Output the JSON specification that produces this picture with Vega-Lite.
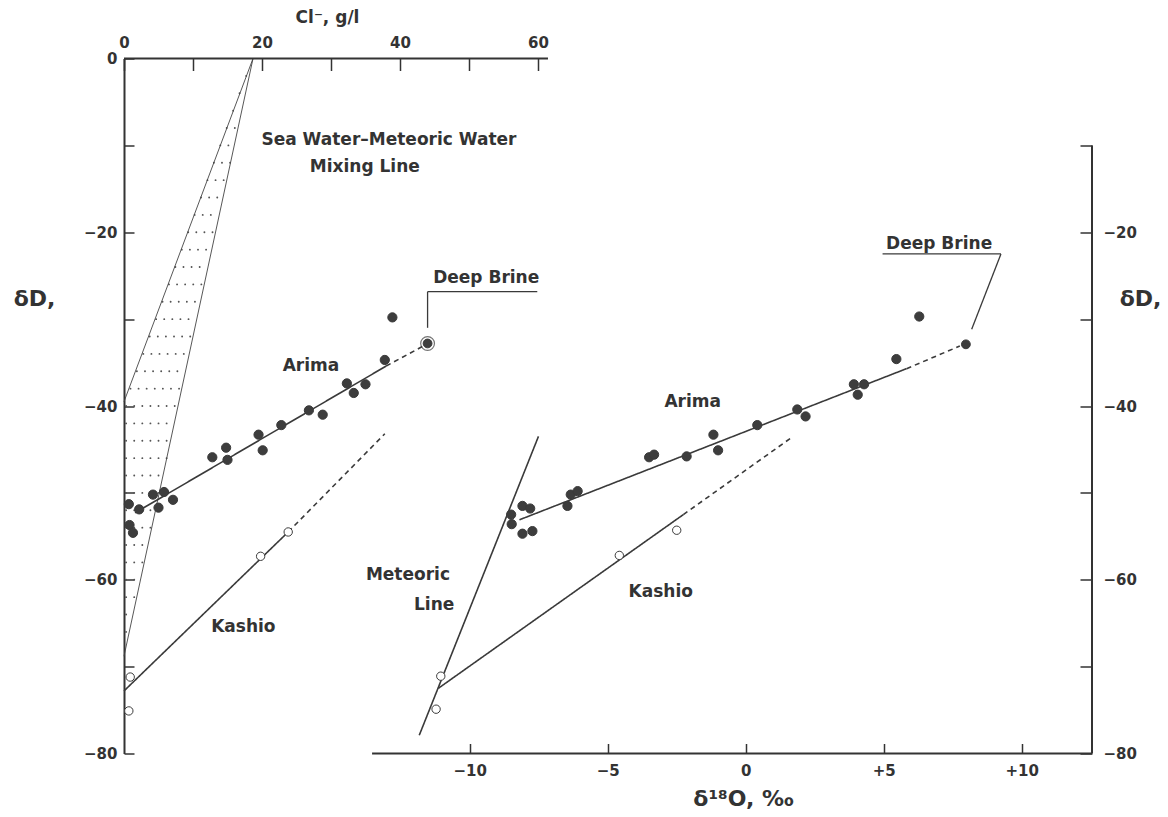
{
  "$schema": "https://vega.github.io/schema/vega-lite/v6.json",
  "width": 968,
  "height": 695,
  "autosize": {"type": "none"},
  "padding": {"left": 124, "top": 58.5, "right": 76, "bottom": 63.5},
  "background": "white",
  "config": {
    "view": {"stroke": null},
    "axis": {
      "grid": false,
      "labelFlush": false,
      "labelOverlap": false,
      "labelFont": "DejaVu Sans",
      "labelFontWeight": "bold",
      "labelFontSize": 15,
      "labelColor": "#333333",
      "tickColor": "#333333",
      "tickWidth": 1.5,
      "domainColor": "#333333",
      "domainWidth": 2,
      "titleFont": "DejaVu Sans",
      "titleFontWeight": "bold",
      "titleColor": "#333333"
    }
  },
  "datasets": {
    "cl_pts": [
      {"cl": 38.9, "dD": -29.8, "water": "Arima"},
      {"cl": 37.8, "dD": -34.7, "water": "Arima"},
      {"cl": 32.3, "dD": -37.4, "water": "Arima"},
      {"cl": 35.0, "dD": -37.5, "water": "Arima"},
      {"cl": 33.3, "dD": -38.5, "water": "Arima"},
      {"cl": 26.8, "dD": -40.5, "water": "Arima"},
      {"cl": 28.8, "dD": -41.0, "water": "Arima"},
      {"cl": 22.8, "dD": -42.2, "water": "Arima"},
      {"cl": 19.5, "dD": -43.3, "water": "Arima"},
      {"cl": 20.1, "dD": -45.1, "water": "Arima"},
      {"cl": 14.8, "dD": -44.8, "water": "Arima"},
      {"cl": 12.8, "dD": -45.9, "water": "Arima"},
      {"cl": 15.0, "dD": -46.2, "water": "Arima"},
      {"cl": 4.2, "dD": -50.2, "water": "Arima"},
      {"cl": 5.8, "dD": -49.9, "water": "Arima"},
      {"cl": 7.1, "dD": -50.8, "water": "Arima"},
      {"cl": 5.0, "dD": -51.7, "water": "Arima"},
      {"cl": 2.2, "dD": -51.9, "water": "Arima"},
      {"cl": 0.7, "dD": -51.3, "water": "Arima"},
      {"cl": 0.8, "dD": -53.7, "water": "Arima"},
      {"cl": 1.3, "dD": -54.6, "water": "Arima"},
      {"cl": 44.0, "dD": -32.8, "water": "Deep Brine"},
      {"cl": 23.8, "dD": -54.5, "water": "Kashio"},
      {"cl": 19.8, "dD": -57.3, "water": "Kashio"},
      {"cl": 0.9, "dD": -71.2, "water": "Kashio"},
      {"cl": 0.7, "dD": -75.1, "water": "Kashio"}
    ],
    "o_pts": [
      {"o18": 3.92, "dD": -37.5, "water": "Arima"},
      {"o18": 4.29, "dD": -37.5, "water": "Arima"},
      {"o18": 4.06, "dD": -38.7, "water": "Arima"},
      {"o18": 1.87, "dD": -40.4, "water": "Arima"},
      {"o18": 2.17, "dD": -41.2, "water": "Arima"},
      {"o18": 0.42, "dD": -42.2, "water": "Arima"},
      {"o18": -1.17, "dD": -43.3, "water": "Arima"},
      {"o18": -1.0, "dD": -45.1, "water": "Arima"},
      {"o18": -2.14, "dD": -45.8, "water": "Arima"},
      {"o18": -3.5, "dD": -45.9, "water": "Arima"},
      {"o18": -3.32, "dD": -45.6, "water": "Arima"},
      {"o18": -6.34, "dD": -50.2, "water": "Arima"},
      {"o18": -6.09, "dD": -49.8, "water": "Arima"},
      {"o18": -6.46, "dD": -51.5, "water": "Arima"},
      {"o18": -8.09, "dD": -51.5, "water": "Arima"},
      {"o18": -7.81, "dD": -51.8, "water": "Arima"},
      {"o18": -8.5, "dD": -52.5, "water": "Arima"},
      {"o18": -8.48, "dD": -53.6, "water": "Arima"},
      {"o18": -8.09, "dD": -54.7, "water": "Arima"},
      {"o18": -7.73, "dD": -54.4, "water": "Arima"},
      {"o18": 6.29, "dD": -29.7, "water": "Arima"},
      {"o18": 5.46, "dD": -34.6, "water": "Arima"},
      {"o18": 7.98, "dD": -32.9, "water": "Deep Brine"},
      {"o18": -11.05, "dD": -71.1, "water": "Kashio"},
      {"o18": -11.22, "dD": -74.9, "water": "Kashio"},
      {"o18": -4.58, "dD": -57.2, "water": "Kashio"},
      {"o18": -2.5, "dD": -54.3, "water": "Kashio"}
    ],
    "cl_lines": [
      {"cl": 1.6, "dD": -52.3, "cl2": 38.0, "dD2": -35.4, "water": "Arima", "part": "fit"},
      {"cl": 38.0, "dD": -35.4, "cl2": 43.6, "dD2": -33.0, "water": "Arima", "part": "extrapolated"},
      {"cl": 0, "dD": -72.8, "cl2": 23.8, "dD2": -54.5, "water": "Kashio", "part": "fit"},
      {"cl": 23.8, "dD": -54.5, "cl2": 37.8, "dD2": -43.2, "water": "Kashio", "part": "extrapolated"}
    ],
    "o_lines": [
      {"o18": -8.2, "dD": -53.1, "o182": 5.83, "dD2": -35.7, "water": "Arima", "part": "fit"},
      {"o18": 5.83, "dD": -35.7, "o182": 7.76, "dD2": -33.1, "water": "Arima", "part": "extrapolated"},
      {"o18": -11.14, "dD": -72.5, "o182": -2.26, "dD2": -52.5, "water": "Kashio", "part": "fit"},
      {"o18": -2.26, "dD": -52.5, "o182": 1.72, "dD2": -43.5, "water": "Kashio", "part": "extrapolated"},
      {"o18": -11.83, "dD": -77.9, "o182": -7.51, "dD2": -43.5, "water": "Meteoric Line", "part": "fit"}
    ],
    "mixing": [
      {"cl": 18.7, "dD": 0, "cl2": 0, "dD2": -39.5, "end": "meteoric upper"},
      {"cl": 18.7, "dD": 0, "cl2": 0, "dD2": -68.8, "end": "meteoric lower"}
    ],
    "stipple": [
      {"dD": -2, "cl": 17.7, "cl2": 18.06},
      {"dD": -4, "cl": 16.74, "cl2": 17.52},
      {"dD": -6, "cl": 15.81, "cl2": 16.98},
      {"dD": -8, "cl": 14.88, "cl2": 16.44},
      {"dD": -10, "cl": 13.95, "cl2": 15.9},
      {"dD": -12, "cl": 13.02, "cl2": 15.37},
      {"dD": -14, "cl": 12.09, "cl2": 14.83},
      {"dD": -16, "cl": 11.16, "cl2": 14.29},
      {"dD": -18, "cl": 10.23, "cl2": 13.75},
      {"dD": -20, "cl": 9.3, "cl2": 13.21},
      {"dD": -22, "cl": 8.37, "cl2": 12.67},
      {"dD": -24, "cl": 7.44, "cl2": 12.13},
      {"dD": -26, "cl": 6.51, "cl2": 11.59},
      {"dD": -28, "cl": 5.58, "cl2": 11.05},
      {"dD": -30, "cl": 4.65, "cl2": 10.51},
      {"dD": -32, "cl": 3.72, "cl2": 9.97},
      {"dD": -34, "cl": 2.79, "cl2": 9.43},
      {"dD": -36, "cl": 1.86, "cl2": 8.9},
      {"dD": -38, "cl": 0.93, "cl2": 8.36},
      {"dD": -40, "cl": 0.3, "cl2": 7.82},
      {"dD": -42, "cl": 0.3, "cl2": 7.28},
      {"dD": -44, "cl": 0.3, "cl2": 6.74},
      {"dD": -46, "cl": 0.3, "cl2": 6.2},
      {"dD": -48, "cl": 0.3, "cl2": 5.66},
      {"dD": -50, "cl": 0.3, "cl2": 5.12},
      {"dD": -52, "cl": 0.3, "cl2": 4.58},
      {"dD": -54, "cl": 0.3, "cl2": 4.04},
      {"dD": -56, "cl": 0.3, "cl2": 3.5},
      {"dD": -58, "cl": 0.3, "cl2": 2.96},
      {"dD": -60, "cl": 0.3, "cl2": 2.43},
      {"dD": -62, "cl": 0.3, "cl2": 1.89},
      {"dD": -64, "cl": 0.3, "cl2": 1.35},
      {"dD": -66, "cl": 0.3, "cl2": 0.81}
    ],
    "cl_leader": [
      {"cl": 44.0, "dD": -31.0, "cl2": 44.0, "dD2": -26.84},
      {"cl": 44.0, "dD": -26.84, "cl2": 59.9, "dD2": -26.84}
    ],
    "o_leader": [
      {"o18": 8.19, "dD": -31.17, "o182": 9.25, "dD2": -22.5},
      {"o18": 9.25, "dD": -22.5, "o182": 4.96, "dD2": -22.5}
    ],
    "cl_labels": [
      {"cl": 38.4, "dD": -9.4, "text": "Sea Water–Meteoric Water"},
      {"cl": 34.9, "dD": -12.45, "text": "Mixing  Line"},
      {"cl": 27.1, "dD": -35.4, "text": "Arima"},
      {"cl": 17.3, "dD": -65.4, "text": "Kashio"},
      {"cl": 52.5, "dD": -25.3, "text": "Deep Brine"}
    ],
    "o_labels": [
      {"o18": -12.24, "dD": -59.45, "text": "Meteoric"},
      {"o18": -11.29, "dD": -62.9, "text": "Line"},
      {"o18": -3.08, "dD": -61.4, "text": "Kashio"},
      {"o18": -1.92, "dD": -39.5, "text": "Arima"},
      {"o18": 7.01, "dD": -21.3, "text": "Deep Brine"}
    ]
  },
  "layer": [
    {
      "layer": [
        {
          "data": {"name": "stipple"},
          "mark": {"type": "rule", "stroke": "#555555", "strokeWidth": 1.8, "strokeCap": "round", "strokeDash": [0.1, 8]},
          "encoding": {
            "x": {
              "field": "cl", "type": "quantitative",
              "scale": {"domain": [0, 140.3], "nice": false, "zero": false},
              "axis": {
                "orient": "top", "domain": false,
                "values": [0, 10, 20, 30, 40, 50, 60],
                "labelExpr": "datum.value % 20 == 0 ? datum.label : ''",
                "tickSize": -12, "labelPadding": 20.5,
                "title": "Cl⁻, g/l", "titleX": 203, "titleY": -41.5,
                "titleAlign": "center", "titleBaseline": "middle", "titleFontSize": 17
              }
            },
            "x2": {"field": "cl2"},
            "y": {
              "field": "dD", "type": "quantitative",
              "scale": {"domain": [-80, 0], "nice": false, "zero": false},
              "axis": {
                "orient": "left",
                "values": [0, -10, -20, -30, -40, -50, -60, -70, -80],
                "labelExpr": "datum.value % 20 == 0 ? datum.label : ''",
                "tickSize": -10, "labelPadding": 17,
                "title": "δD,", "titleAngle": 0, "titleX": -90, "titleY": 240,
                "titleAlign": "center", "titleBaseline": "middle", "titleFontSize": 22
              }
            }
          }
        },
        {
          "data": {"name": "mixing"},
          "mark": {"type": "rule", "stroke": "#444444", "strokeWidth": 0.9},
          "encoding": {
            "x": {"field": "cl", "type": "quantitative", "scale": {"domain": [0, 140.3], "nice": false, "zero": false}},
            "x2": {"field": "cl2"},
            "y": {"field": "dD", "type": "quantitative", "scale": {"domain": [-80, 0], "nice": false, "zero": false}},
            "y2": {"field": "dD2"}
          }
        },
        {
          "data": {"name": "cl_lines"},
          "mark": {"type": "rule", "stroke": "#3a3a3a", "strokeWidth": 1.6},
          "encoding": {
            "x": {"field": "cl", "type": "quantitative", "scale": {"domain": [0, 140.3], "nice": false, "zero": false}},
            "x2": {"field": "cl2"},
            "y": {"field": "dD", "type": "quantitative", "scale": {"domain": [-80, 0], "nice": false, "zero": false}},
            "y2": {"field": "dD2"},
            "strokeDash": {"field": "part", "type": "nominal", "scale": {"domain": ["fit", "extrapolated"], "range": [[1, 0], [5, 4]]}, "legend": null}
          }
        },
        {
          "data": {"name": "cl_leader"},
          "mark": {"type": "rule", "stroke": "#3a3a3a", "strokeWidth": 1.3},
          "encoding": {
            "x": {"field": "cl", "type": "quantitative", "scale": {"domain": [0, 140.3], "nice": false, "zero": false}},
            "x2": {"field": "cl2"},
            "y": {"field": "dD", "type": "quantitative", "scale": {"domain": [-80, 0], "nice": false, "zero": false}},
            "y2": {"field": "dD2"}
          }
        },
        {
          "data": {"values": [{}]},
          "mark": {"type": "rule", "stroke": "#333333", "strokeWidth": 2},
          "encoding": {
            "x": {"datum": 0, "type": "quantitative", "scale": {"domain": [0, 140.3], "nice": false, "zero": false}},
            "x2": {"datum": 61.45},
            "y": {"datum": 0, "type": "quantitative", "scale": {"domain": [-80, 0], "nice": false, "zero": false}}
          }
        },
        {
          "data": {"name": "cl_pts"},
          "transform": [{"filter": "datum.water === 'Deep Brine'"}],
          "mark": {"type": "point", "shape": "circle", "filled": false, "stroke": "#3a3a3a", "strokeWidth": 1.2, "size": 190},
          "encoding": {
            "x": {"field": "cl", "type": "quantitative", "scale": {"domain": [0, 140.3], "nice": false, "zero": false}},
            "y": {"field": "dD", "type": "quantitative", "scale": {"domain": [-80, 0], "nice": false, "zero": false}}
          }
        },
        {
          "data": {"name": "cl_pts"},
          "mark": {"type": "point", "shape": "circle", "filled": true, "stroke": "#3a3a3a", "strokeWidth": 1, "opacity": 1},
          "encoding": {
            "x": {"field": "cl", "type": "quantitative", "scale": {"domain": [0, 140.3], "nice": false, "zero": false}},
            "y": {"field": "dD", "type": "quantitative", "scale": {"domain": [-80, 0], "nice": false, "zero": false}},
            "fill": {"field": "water", "type": "nominal", "scale": {"domain": ["Arima", "Deep Brine", "Kashio"], "range": ["#3d3d3d", "#3d3d3d", "#ffffff"]}, "legend": null},
            "size": {"field": "water", "type": "nominal", "scale": {"domain": ["Arima", "Deep Brine", "Kashio"], "range": [85, 70, 60]}, "legend": null}
          }
        },
        {
          "data": {"name": "cl_labels"},
          "mark": {"type": "text", "font": "DejaVu Sans", "fontWeight": "bold", "fontSize": 17, "fill": "#333333", "align": "center", "baseline": "middle"},
          "encoding": {
            "x": {"field": "cl", "type": "quantitative", "scale": {"domain": [0, 140.3], "nice": false, "zero": false}},
            "y": {"field": "dD", "type": "quantitative", "scale": {"domain": [-80, 0], "nice": false, "zero": false}},
            "text": {"field": "text"}
          }
        }
      ]
    },
    {
      "layer": [
        {
          "data": {"name": "o_lines"},
          "mark": {"type": "rule", "stroke": "#3a3a3a", "strokeWidth": 1.6},
          "encoding": {
            "x": {
              "field": "o18", "type": "quantitative",
              "scale": {"domain": [-22.53, 12.55], "nice": false, "zero": false},
              "axis": {
                "orient": "bottom", "domain": false,
                "values": [-10, -5, 0, 5, 10],
                "labelExpr": "datum.value > 0 ? '+' + datum.label : datum.label",
                "tickSize": -10, "labelPadding": 20,
                "title": "δ¹⁸O, ‰", "titleX": 619, "titleY": 45,
                "titleAlign": "center", "titleBaseline": "middle", "titleFontSize": 22
              }
            },
            "x2": {"field": "o182"},
            "y": {
              "field": "dD", "type": "quantitative",
              "scale": {"domain": [-80, 0], "nice": false, "zero": false},
              "axis": {
                "orient": "right", "domain": false,
                "values": [-10, -20, -30, -40, -50, -60, -70, -80],
                "labelExpr": "datum.value % 20 == 0 ? datum.label : ''",
                "tickSize": -12, "labelPadding": 23,
                "title": "δD,", "titleAngle": 0, "titleX": 48, "titleY": 240,
                "titleAlign": "center", "titleBaseline": "middle", "titleFontSize": 22
              }
            },
            "y2": {"field": "dD2"},
            "strokeDash": {"field": "part", "type": "nominal", "scale": {"domain": ["fit", "extrapolated"], "range": [[1, 0], [5, 4]]}, "legend": null}
          }
        },
        {
          "data": {"name": "o_leader"},
          "mark": {"type": "rule", "stroke": "#3a3a3a", "strokeWidth": 1.3},
          "encoding": {
            "x": {"field": "o18", "type": "quantitative", "scale": {"domain": [-22.53, 12.55], "nice": false, "zero": false}},
            "x2": {"field": "o182"},
            "y": {"field": "dD", "type": "quantitative", "scale": {"domain": [-80, 0], "nice": false, "zero": false}},
            "y2": {"field": "dD2"}
          }
        },
        {
          "data": {"values": [{}]},
          "mark": {"type": "rule", "stroke": "#333333", "strokeWidth": 2},
          "encoding": {
            "x": {"datum": -13.54, "type": "quantitative", "scale": {"domain": [-22.53, 12.55], "nice": false, "zero": false}},
            "x2": {"datum": 12.55},
            "y": {"datum": -80, "type": "quantitative", "scale": {"domain": [-80, 0], "nice": false, "zero": false}}
          }
        },
        {
          "data": {"values": [{}]},
          "mark": {"type": "rule", "stroke": "#333333", "strokeWidth": 2},
          "encoding": {
            "x": {"datum": 12.55, "type": "quantitative", "scale": {"domain": [-22.53, 12.55], "nice": false, "zero": false}},
            "y": {"datum": -10, "type": "quantitative", "scale": {"domain": [-80, 0], "nice": false, "zero": false}},
            "y2": {"datum": -80}
          }
        },
        {
          "data": {"name": "o_pts"},
          "mark": {"type": "point", "shape": "circle", "filled": true, "stroke": "#3a3a3a", "strokeWidth": 1, "opacity": 1},
          "encoding": {
            "x": {"field": "o18", "type": "quantitative", "scale": {"domain": [-22.53, 12.55], "nice": false, "zero": false}},
            "y": {"field": "dD", "type": "quantitative", "scale": {"domain": [-80, 0], "nice": false, "zero": false}},
            "fill": {"field": "water", "type": "nominal", "scale": {"domain": ["Arima", "Deep Brine", "Kashio"], "range": ["#3d3d3d", "#3d3d3d", "#ffffff"]}, "legend": null},
            "size": {"field": "water", "type": "nominal", "scale": {"domain": ["Arima", "Deep Brine", "Kashio"], "range": [85, 85, 60]}, "legend": null}
          }
        },
        {
          "data": {"name": "o_labels"},
          "mark": {"type": "text", "font": "DejaVu Sans", "fontWeight": "bold", "fontSize": 17, "fill": "#333333", "align": "center", "baseline": "middle"},
          "encoding": {
            "x": {"field": "o18", "type": "quantitative", "scale": {"domain": [-22.53, 12.55], "nice": false, "zero": false}},
            "y": {"field": "dD", "type": "quantitative", "scale": {"domain": [-80, 0], "nice": false, "zero": false}},
            "text": {"field": "text"}
          }
        }
      ]
    }
  ],
  "resolve": {
    "scale": {"x": "independent", "y": "independent"},
    "axis": {"x": "independent", "y": "independent"}
  }
}
